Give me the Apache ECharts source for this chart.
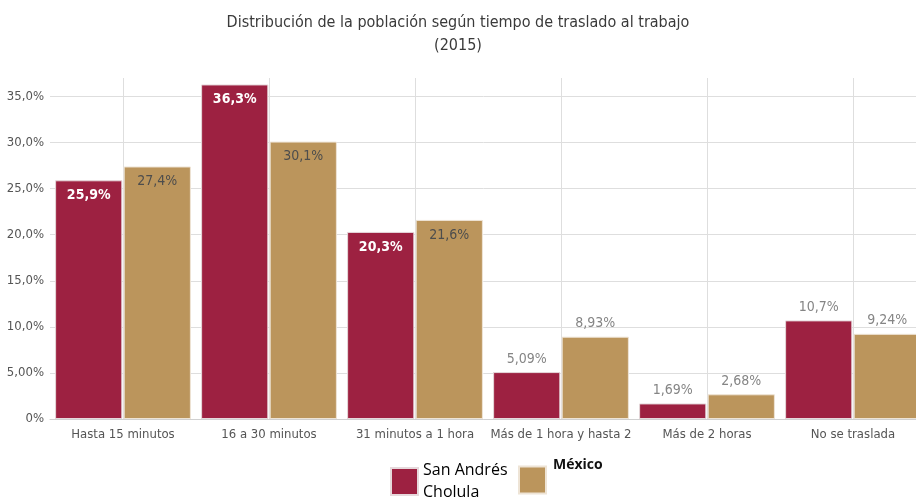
<!DOCTYPE html>
<html>
<head>
<meta charset="utf-8">
<script src="https://cdn.jsdelivr.net/npm/echarts@6/dist/echarts.min.js"></script>
<style>
  html, body { margin: 0; padding: 0; background: #fff; }
</style>
</head>
<body>
<div id="main" style="width: 916px;height:499px;"></div>
<script type="text/javascript">
    // datos
    var categorias = ['Hasta 15 minutos', '16 a 30 minutos', '31 minutos a 1 hora', 'Más de 1 hora y hasta 2', 'Más de 2 horas', 'No se traslada'];
    var sanAndres = [25.9, 36.3, 20.3, 5.09, 1.69, 10.7];
    var mexico = [27.4, 30.1, 21.6, 8.93, 2.68, 9.24];
    var etiquetasSanAndres = ['25,9%', '36,3%', '20,3%', '5,09%', '1,69%', '10,7%'];
    var etiquetasMexico = ['27,4%', '30,1%', '21,6%', '8,93%', '2,68%', '9,24%'];
    var etiquetasY = ['0%', '5,00%', '10,0%', '15,0%', '20,0%', '25,0%', '30,0%', '35,0%'];

    var fuente = '"Liberation Sans Narrow", "DejaVu Sans Condensed", "Roboto", sans-serif';

    // arma los puntos con su etiqueta (dentro si la barra es alta)
    function armarDatos(valores, textos, colorDentro, pesoDentro) {
        return valores.map(function (v, i) {
            var dentro = v > 15;
            return {
                value: v,
                label: {
                    show: true,
                    position: dentro ? 'insideTop' : 'top',
                    distance: dentro ? 8 : 6,
                    color: dentro ? colorDentro : '#858585',
                    fontWeight: dentro ? pesoDentro : 'normal',
                    fontSize: 14,
                    fontFamily: fuente,
                    formatter: textos[i]
                }
            };
        });
    }

    var myChart = echarts.init(document.getElementById('main'));

    var option = {
        animation: false,
        title: {
            text: 'Distribución de la población según tiempo de traslado al trabajo\n(2015)',
            left: 'center',
            top: 6,
            textStyle: {
                fontSize: 16,
                fontWeight: 'normal',
                color: '#3a3a3a',
                lineHeight: 23,
                fontFamily: fuente
            }
        },
        legend: [{
            data: ['San Andrés Cholula'],
            left: 385,
            top: 450,
            itemWidth: 27,
            itemHeight: 27,
            icon: 'rect',
            formatter: 'San Andrés\nCholula',
            textStyle: {
                fontSize: 16,
                lineHeight: 22,
                color: '#000',
                fontFamily: '"Open Sans", "Liberation Sans", sans-serif',
                padding: [9, 0, 0, 0]
            }
        }, {
            data: ['México'],
            left: 513,
            top: 453,
            itemWidth: 27,
            itemHeight: 27,
            icon: 'rect',
            formatter: '{b|México}',
            textStyle: {
                rich: {
                    b: {
                        fontSize: 14,
                        fontWeight: 'bold',
                        color: '#111',
                        fontFamily: '"Open Sans", "Liberation Sans", sans-serif',
                        padding: [0, 0, 30, 2]
                    }
                }
            }
        }],
        grid: {
            left: 50,
            right: -10,
            top: 78,
            bottom: 80,
            outerBoundsMode: 'none'
        },
        xAxis: {
            type: 'category',
            data: categorias,
            axisLine: { lineStyle: { color: '#d0d0d0', width: 1 } },
            axisTick: { show: false },
            axisLabel: {
                interval: 0,
                color: '#555',
                fontSize: 13,
                margin: 9,
                fontFamily: fuente
            },
            splitLine: {
                show: true,
                interval: 0,
                alignWithLabel: true,
                lineStyle: { color: '#dedede' }
            }
        },
        yAxis: {
            type: 'value',
            min: 0,
            max: 37,
            interval: 5,
            axisLine: { show: false },
            axisTick: { show: false },
            axisLabel: {
                color: '#555',
                fontSize: 13,
                margin: 6,
                fontFamily: fuente,
                formatter: function (v) {
                    var i = Math.round(v / 5);
                    return (v % 5 === 0 && etiquetasY[i]) ? etiquetasY[i] : '';
                }
            },
            splitLine: {
                showMaxLine: false,
                lineStyle: { color: '#dedede' }
            }
        },
        series: [{
            name: 'San Andrés Cholula',
            type: 'bar',
            barGap: '2%',
            barCategoryGap: '7%',
            itemStyle: { color: '#9d2141', borderColor: '#e6d9dc', borderWidth: 1 },
            data: armarDatos(sanAndres, etiquetasSanAndres, '#ffffff', 'bold')
        }, {
            name: 'México',
            type: 'bar',
            itemStyle: { color: '#bb955c', borderColor: '#eee4d6', borderWidth: 1 },
            data: armarDatos(mexico, etiquetasMexico, '#4d4d4d', 'normal')
        }]
    };

    myChart.setOption(option);
</script>
</body>
</html>
